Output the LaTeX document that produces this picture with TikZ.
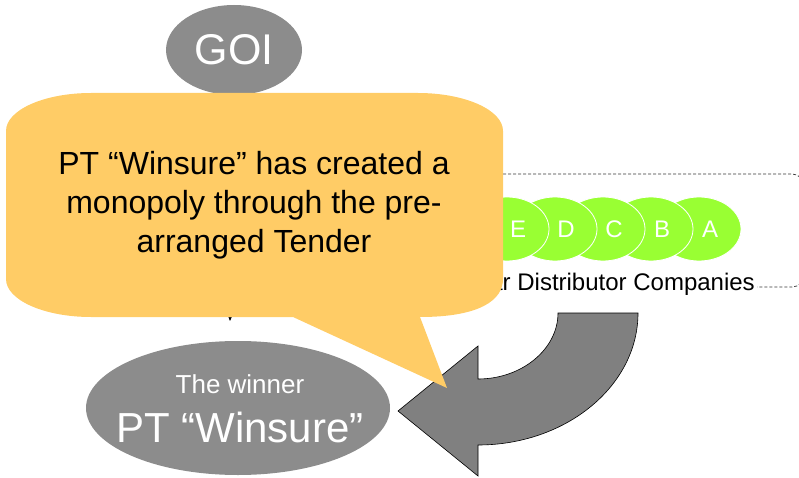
\documentclass[tikz,border=0pt]{standalone}
\usepackage{fontspec}
\setmainfont{Liberation Sans}
\usetikzlibrary{shapes.geometric,arrows.meta,calc}
\definecolor{ovalgray}{RGB}{140,140,140}
\definecolor{arrowgray}{RGB}{128,128,128}
\definecolor{calloutyellow}{RGB}{255,204,102}
\definecolor{limegreen}{RGB}{153,255,51}
\definecolor{dashgray}{RGB}{55,55,55}
\tikzset{
  oval/.style={ellipse, fill=ovalgray, draw=none, inner sep=0pt},
  company/.style={ellipse, fill=limegreen, draw=white, line width=0.8pt,
    minimum width=84pt, minimum height=64pt, inner sep=0pt},
  complabel/.style={text=white, font=\fontsize{24}{27}\selectfont, inner sep=0pt},
  groupframe/.style={draw=dashgray, line width=0.7pt, dash pattern=on 3pt off 2pt,
    rounded corners=12pt},
  bigtext/.style={font=\fontsize{32}{38}\selectfont, anchor=base, inner sep=0pt},
}
\begin{document}
\begin{tikzpicture}[x=1pt,y=-1pt]
\useasboundingbox (0,0) rectangle (799,478);

% group of distributor companies
\draw[groupframe] (200,174) rectangle (804,287);
\foreach \n/\cx in {A/699,B/651,C/603,D/555,E/507}{
  \node[company] (c\n) at (\cx,229) {};
  \node[complabel] (t\n) at (\cx+11,229) {\n};
}
\node[fill=white, inner sep=2pt, anchor=base east,
      font=\fontsize{24}{28}\selectfont] (grouplabel) at (757,290)
      {Regular Distributor Companies};

% government and the tender winner
\node[oval, minimum width=136pt, minimum height=90pt] (goi) at (234,50) {};
\node[text=white, font=\fontsize{43}{50}\selectfont, inner sep=0pt] (goitext) at (234,50) {GOI};
\coordinate (goiend) at (230,321);
\draw[line width=0.6pt, -{Stealth[length=5pt,width=4pt]}] (goi) -- (goiend);

\node[oval, minimum width=304pt, minimum height=134pt] (winner) at (238,408) {};
\node[text=white, anchor=base, inner sep=0pt, font=\fontsize{26}{30}\selectfont]
  (winnertop) at (240,393) {The winner};
\node[text=white, anchor=base, inner sep=0pt, font=\fontsize{42}{48}\selectfont]
  (winnername) at (240,442) {PT “Winsure”};

% curved arrow turning back to the winner
\draw[fill=arrowgray, draw=black, line width=0.6pt]
  (558,313) -- (638,313)
  .. controls (638,386) and (566,445) .. (478,445)
  -- (478,476) -- (398,411) -- (478,346) -- (478,379)
  .. controls (522,379) and (558,349) .. (558,313) -- cycle;

% speech bubble
\path[fill=calloutyellow]
  (91,93) -- (418,93)
  .. controls (465,93) and (503,110) .. (503,131)
  -- (503,279)
  .. controls (503,300) and (480,317) .. (420,317)
  -- (447,388) -- (293,317) -- (91,317)
  .. controls (44,317) and (6,300) .. (6,279)
  -- (6,131)
  .. controls (6,110) and (44,93) .. (91,93) -- cycle;
\node[bigtext] (line1) at (254,175) {PT “Winsure” has created a};
\node[bigtext] (line2) at (254,213) {monopoly through the pre-};
\node[bigtext] (line3) at (254,252) {arranged Tender};
\end{tikzpicture}
\end{document}
